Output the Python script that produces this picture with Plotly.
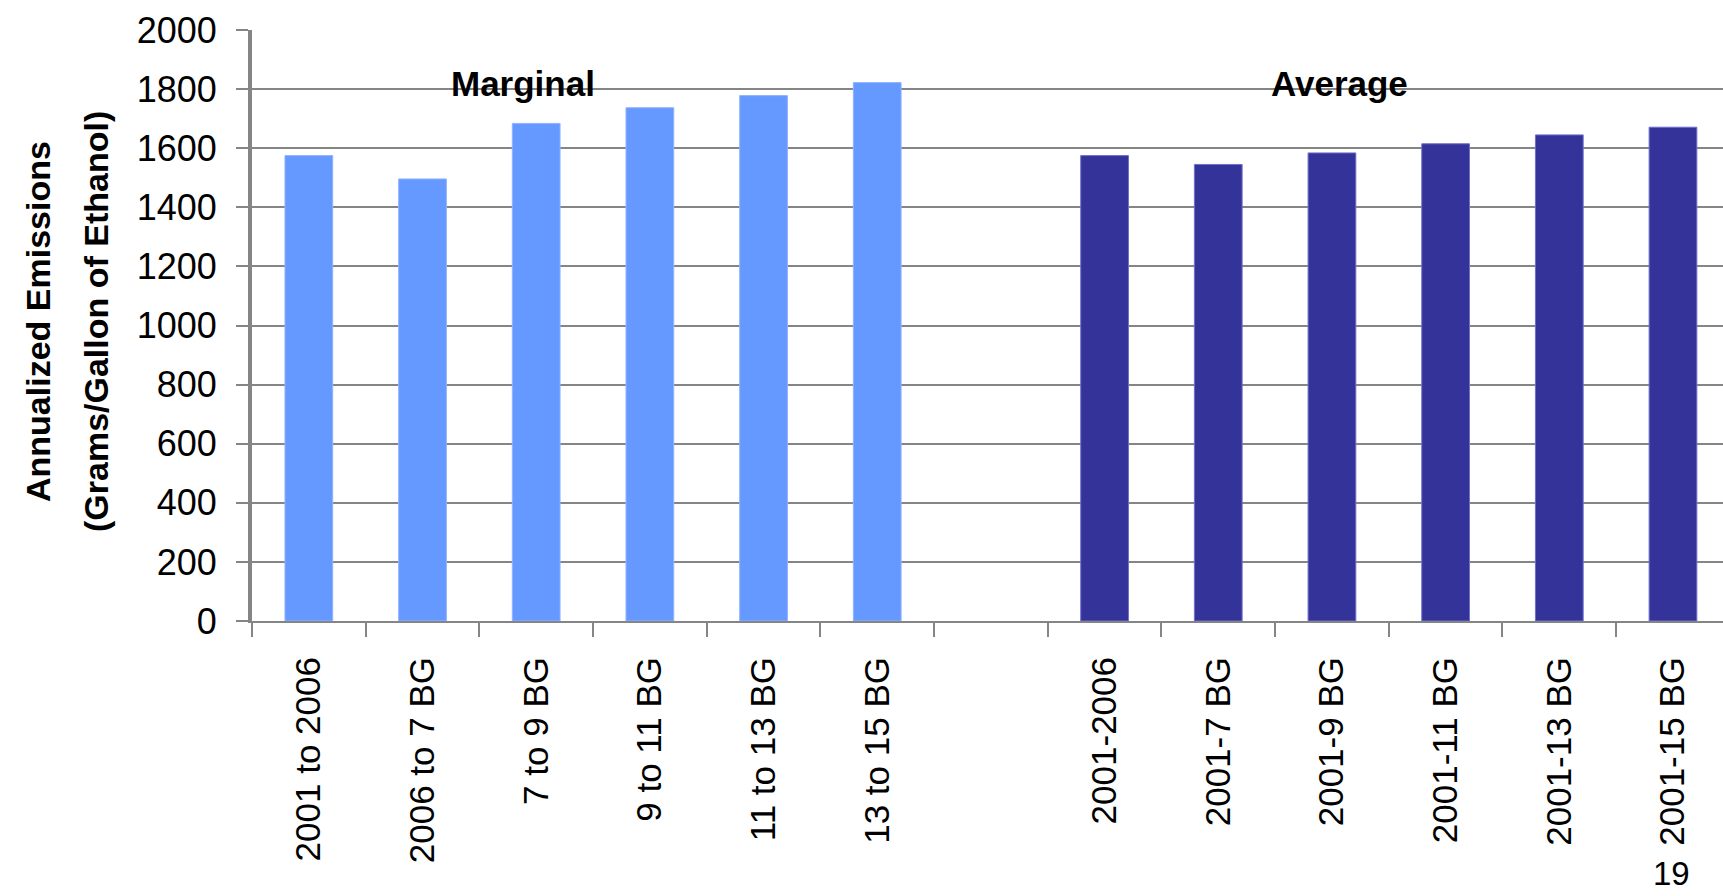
import plotly.graph_objects as go

marginal_labels = ["2001 to 2006", "2006 to 7 BG", "7 to 9 BG", "9 to 11 BG", "11 to 13 BG", "13 to 15 BG"]
marginal_values = [1575, 1496, 1684, 1737, 1778, 1822]
gap_label = [" "]
average_labels = ["2001-2006", "2001-7 BG", "2001-9 BG", "2001-11 BG", "2001-13 BG", "2001-15 BG"]
average_values = [1575, 1545, 1584, 1615, 1645, 1671]
y_ticks = [0, 200, 400, 600, 800, 1000, 1200, 1400, 1600, 1800, 2000]

all_cats = marginal_labels + gap_label + average_labels

FONT = "Liberation Sans, Arial, sans-serif"
W, H = 1723, 896
L, R, T, B = 252, 0, 30, 275
GRID = "#858585"

fig = go.Figure()
fig.add_trace(go.Bar(x=marginal_labels, y=marginal_values, width=0.42,
                     marker=dict(color="#6699ff", line=dict(color="#8fb3ff", width=1))))
fig.add_trace(go.Bar(x=average_labels, y=average_values, width=0.42,
                     marker=dict(color="#333399", line=dict(color="#7070cc", width=1))))

fig.update_layout(
    width=W, height=H,
    margin=dict(l=L, r=R, t=T, b=B, pad=0),
    paper_bgcolor="white", plot_bgcolor="white",
    barmode="overlay", showlegend=False,
    font=dict(family=FONT, size=35, color="black"),
)
fig.update_xaxes(
    type="category", categoryorder="array", categoryarray=all_cats,
    range=[-0.5, 12.44], tickson="boundaries", ticks="outside", ticklen=14,
    tickwidth=2, tickcolor=GRID, showline=True, linecolor=GRID, linewidth=2,
    tickangle=-90, ticklabelstandoff=20, showgrid=False, automargin=False,
    tickfont=dict(family=FONT, size=35, color="black"),
)
fig.update_yaxes(
    range=[0, 2000], tickvals=y_ticks, ticks="outside", ticklen=12, tickwidth=2,
    tickcolor=GRID, showgrid=True, gridcolor=GRID, gridwidth=2,
    showline=True, linecolor=GRID, linewidth=4, zeroline=False, automargin=False,
    ticklabelstandoff=12, tickfont=dict(family=FONT, size=36, color="black"),
)

pw = W - L - R
ph = H - T - B
title_lines = ["<b>Annualized Emissions</b>", "<b>(Grams/Gallon of Ethanol)</b>"]
title_x = [38, 96]
for txt, px in zip(title_lines, title_x):
    fig.add_annotation(text=txt, xref="paper", yref="paper", x=(px - L) / pw,
                       y=(H - B - 322) / ph, xanchor="center", yanchor="middle",
                       textangle=-90, showarrow=False,
                       font=dict(family=FONT, size=34, color="black"))
fig.add_annotation(text="<b>Marginal</b>", xref="x", yref="y", x=1.88, y=1820,
                   xanchor="center", yanchor="middle", showarrow=False,
                   font=dict(family=FONT, size=35, color="black"))
fig.add_annotation(text="<b>Average</b>", xref="x", yref="y", x=9.07, y=1820,
                   xanchor="center", yanchor="middle", showarrow=False,
                   font=dict(family=FONT, size=35, color="black"))
fig.add_annotation(text="19", xref="paper", yref="paper", x=(1671 - L) / pw,
                   y=(H - B - 894) / ph, xanchor="center", yanchor="bottom",
                   showarrow=False, font=dict(family=FONT, size=33, color="black"))

fig.write_html("out.html")
